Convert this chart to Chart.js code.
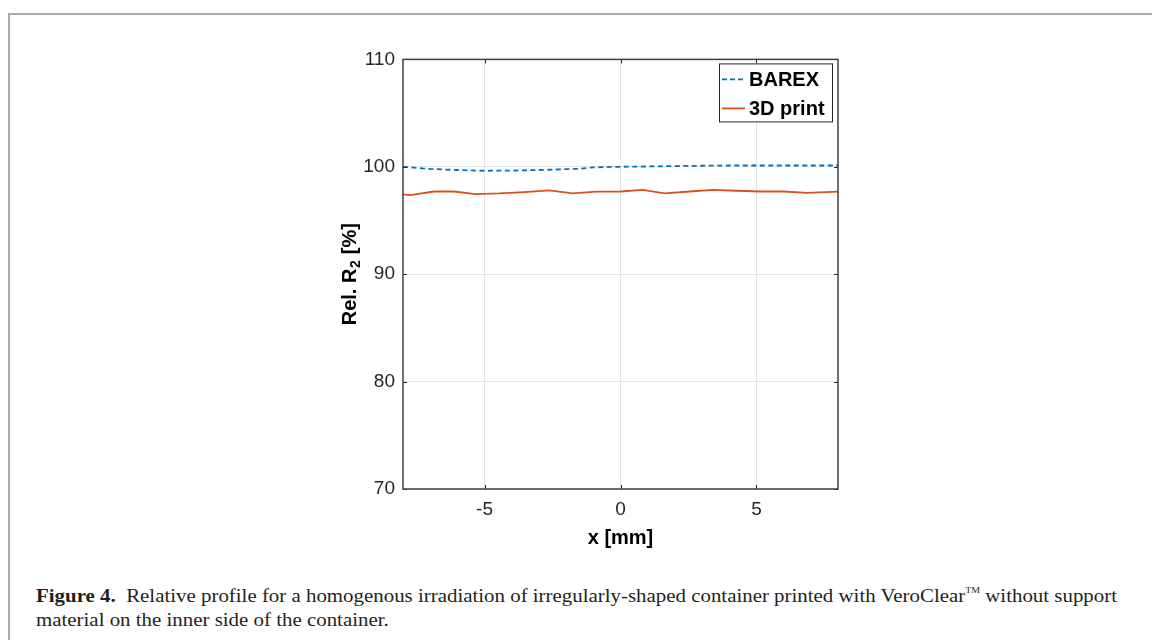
<!DOCTYPE html>
<html><head><meta charset="utf-8">
<script src="https://cdn.jsdelivr.net/npm/chart.js@4.4.0/dist/chart.umd.min.js"></script>
<style>
html,body{margin:0;padding:0;background:#fff;width:1152px;height:640px;overflow:hidden;}
#frame{position:absolute;left:8px;top:13px;right:-4px;bottom:-4px;border-left:2px solid #aaa;border-top:2px solid #aaa;}
#wrap{position:absolute;left:320px;top:40px;width:540px;height:520px;}
#cap{position:absolute;left:36px;top:584px;font-family:"Liberation Serif","DejaVu Serif",serif;font-size:19px;color:#231f20;line-height:24px;white-space:nowrap;}
.ln{display:block;transform-origin:0 0;}
sup{font-size:9px;vertical-align:9px;line-height:0;}
</style></head>
<body>
<div id="frame"></div>
<div id="wrap"><canvas id="c"></canvas></div>
<div id="cap"><span class="ln" id="l1"><b>Figure 4.</b>&nbsp; Relative profile for a homogenous irradiation of irregularly-shaped container printed with VeroClear<sup>TM</sup> without support</span><span class="ln" id="l2">material on the inner side of the container.</span></div>
<script>
// ---- data ----
const seriesNames = ["BAREX", "3D print"];
const barexX = [-8, -7, -6, -5, -4, -3, -2, -1.5, -1, 0, 1, 2, 3, 4, 5, 6, 7, 8];
const barexY = [100.0, 99.8, 99.7, 99.63, 99.65, 99.7, 99.78, 99.82, 99.95, 100.0, 100.03, 100.07, 100.1, 100.12, 100.12, 100.12, 100.12, 100.12];
const printX = [-8, -7.73, -6.86, -6.13, -5.33, -4.46, -3.54, -2.62, -1.76, -0.9, 0, 0.82, 1.62, 2.55, 3.4, 4.27, 5.13, 5.99, 6.85, 8];
const printY = [97.43, 97.37, 97.7, 97.7, 97.46, 97.52, 97.64, 97.8, 97.52, 97.68, 97.7, 97.86, 97.52, 97.7, 97.86, 97.77, 97.7, 97.7, 97.58, 97.68];
const xTicks = [-5, 0, 5];
const yTicks = [70, 80, 90, 100, 110];
const xLabel = "x [mm]";
const yLabelParts = ["Rel. R", "2", " [%]"];

const BLUE = "#0072BD", ORANGE = "#D95319", AX = "#262626";
const FONT = "'Liberation Sans', Arial, sans-serif";

const boxPlugin = {
  id: "box",
  afterDraw(chart) {
    const {ctx, chartArea: a, scales} = chart;
    ctx.save();
    // ticks inward
    ctx.strokeStyle = AX; ctx.lineWidth = 1;
    ctx.beginPath();
    xTicks.forEach(v => {
      const px = Math.round(scales.x.getPixelForValue(v)) + 0.5;
      ctx.moveTo(px, a.bottom); ctx.lineTo(px, a.bottom - 4);
      ctx.moveTo(px, a.top); ctx.lineTo(px, a.top + 4);
    });
    yTicks.forEach(v => {
      const py = Math.round(scales.y.getPixelForValue(v)) + 0.5;
      ctx.moveTo(a.left, py); ctx.lineTo(a.left + 4, py);
      ctx.moveTo(a.right, py); ctx.lineTo(a.right - 4, py);
    });
    ctx.stroke();
    // axes box
    ctx.strokeStyle = "#404040"; ctx.lineWidth = 1.5;
    ctx.strokeRect(a.left, a.top, a.right - a.left, a.bottom - a.top);
    // y title with subscript
    const big = "bold 20px " + FONT, small = "bold 14px " + FONT;
    ctx.font = big; const w0 = ctx.measureText(yLabelParts[0]).width, w2 = ctx.measureText(yLabelParts[2]).width;
    ctx.font = small; const w1 = ctx.measureText(yLabelParts[1]).width + 1;
    const total = w0 + w1 + w2;
    ctx.save();
    ctx.translate(30, (a.top + a.bottom) / 2);
    ctx.rotate(-Math.PI / 2);
    ctx.fillStyle = "#000"; ctx.textBaseline = "middle"; ctx.textAlign = "left";
    let x0 = -total / 2;
    ctx.font = big; ctx.fillText(yLabelParts[0], x0, 0);
    ctx.font = small; ctx.fillText(yLabelParts[1], x0 + w0 + 0.5, 6);
    ctx.font = big; ctx.fillText(yLabelParts[2], x0 + w0 + w1, 0);
    ctx.restore();
    // legend
    const bx = a.right - 119, by = a.top + 4, bw = 113, bh = 58;
    ctx.fillStyle = "#fff"; ctx.fillRect(bx, by, bw, bh);
    ctx.strokeStyle = AX; ctx.lineWidth = 1;
    ctx.strokeRect(bx + 0.5, by + 0.5, bw, bh);
    const rows = [{y: by + 16, c: BLUE, dash: [5, 3]}, {y: by + 45, c: ORANGE, dash: []}];
    rows.forEach((r, i) => {
      ctx.strokeStyle = r.c; ctx.lineWidth = 1.8; ctx.setLineDash(r.dash);
      ctx.beginPath(); ctx.moveTo(bx + 3, r.y); ctx.lineTo(bx + 26, r.y); ctx.stroke();
      ctx.setLineDash([]);
      ctx.fillStyle = "#000"; ctx.font = "bold 20px " + FONT;
      ctx.textBaseline = "middle"; ctx.textAlign = "left";
      ctx.fillText(seriesNames[i], bx + 30, r.y + 1);
    });
    ctx.restore();
  }
};

new Chart(document.getElementById("c"), {
  type: "line",
  data: {
    datasets: [
      {label: seriesNames[0], data: barexX.map((x, i) => ({x, y: barexY[i]})), borderColor: BLUE, borderWidth: 1.8, borderDash: [5, 3.5], pointRadius: 0, tension: 0},
      {label: seriesNames[1], data: printX.map((x, i) => ({x, y: printY[i]})), borderColor: ORANGE, borderWidth: 1.8, pointRadius: 0, tension: 0}
    ]
  },
  options: {
    responsive: true, maintainAspectRatio: false, animation: false, devicePixelRatio: 1,
    layout: {padding: {top: 13, right: 22, left: 0, bottom: 0}},
    plugins: {legend: {display: false}, tooltip: {enabled: false}},
    scales: {
      x: {
        type: "linear", min: -8, max: 8,
        afterBuildTicks: s => { s.ticks = xTicks.map(v => ({value: v})); },
        afterFit: s => { s.height = 71; },
        grid: {color: "#e3e3e3", lineWidth: 1, drawTicks: false},
        border: {display: false},
        ticks: {color: AX, font: {family: FONT, size: 19}, padding: 9, maxRotation: 0},
        title: {display: true, text: xLabel, color: "#000", font: {family: FONT, size: 20, weight: "bold"}, padding: {top: 0, bottom: 10}}
      },
      y: {
        type: "linear", min: 70, max: 110,
        afterBuildTicks: s => { s.ticks = yTicks.map(v => ({value: v})); },
        afterFit: s => { s.width = 83; },
        grid: {color: "#e3e3e3", lineWidth: 1, drawTicks: false},
        border: {display: false},
        ticks: {color: AX, font: {family: FONT, size: 19}, padding: 8},
        title: {display: false}
      }
    }
  },
  plugins: [boxPlugin]
});

// fit caption line widths
(function () {
  const l1 = document.getElementById("l1"), l2 = document.getElementById("l2");
  const inner = document.createElement("span"); inner.innerHTML = l1.innerHTML; inner.style.whiteSpace = "nowrap";
  l1.innerHTML = ""; l1.appendChild(inner);
  const iw = inner.getBoundingClientRect().width;
  const sx = 1081 / iw;
  l1.style.transform = "scaleX(" + sx + ")";
  l2.style.transform = "scaleX(" + sx + ")";
})();
</script>
</body></html>
